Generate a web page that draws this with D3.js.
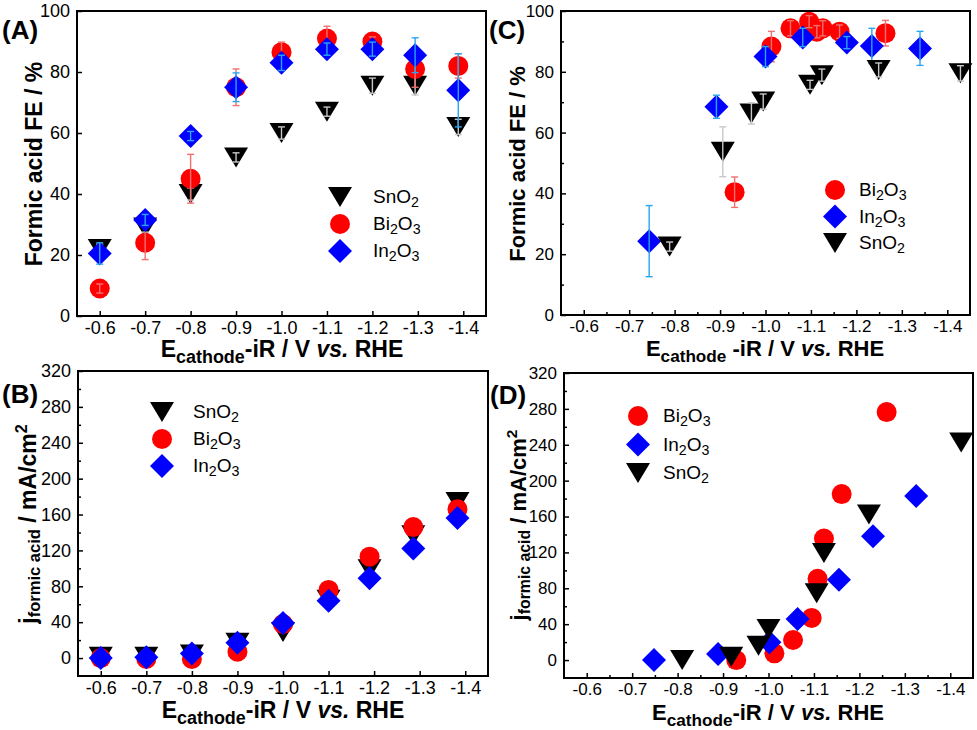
<!DOCTYPE html>
<html>
<head>
<meta charset="utf-8">
<script src="https://cdn.jsdelivr.net/npm/d3@7"></script>
<style>
body { margin: 0; background: #fff; }
svg { font-family: "Liberation Sans", Arial, sans-serif; }
</style>
</head>
<body>
<svg width="977" height="730"></svg>
<script>
// tick labels
const xTicks = [-0.6, -0.7, -0.8, -0.9, -1.0, -1.1, -1.2, -1.3, -1.4]
const xMinor = [-0.65, -0.75, -0.85, -0.95, -1.05, -1.15, -1.25, -1.35]
const feTicks = [0, 20, 40, 60, 80, 100]
const feMinor = [10, 30, 50, 70, 90]
const jTicks = [0, 40, 80, 120, 160, 200, 240, 280, 320]
const jMinor = [20, 60, 100, 140, 180, 220, 260, 300]

// (A) FE vs potential
const potA = [-0.6, -0.7, -0.8, -0.9, -1.0, -1.1, -1.2, -1.294, -1.389]
const feA_sn = [22, 29, 40, 52, 60, 67, 75.5, 75.5, 62]
const feA_snErr = [1.5, 1.5, 2, 1.5, 2, 1.5, 2.5, 3, 2.5]
const feA_bi = [9, 24, 45, 75, 86.5, 91, 90, 81, 82]
const feA_biErr = [1.5, 5.5, 8, 6, 3.3, 4, 1.5, 6, 4]
const feA_in = [20.5, 31.5, 59, 75, 83, 87.5, 87.5, 85.5, 74]
const feA_inErr = [3.5, 1.8, 1.5, 4.7, 2.5, 2, 2.3, 5.7, 12]

// (B) partial current density
const potB = [-0.6, -0.7, -0.8, -0.9, -1.0, -1.1, -1.19, -1.286, -1.383]
const jB_sn = [1.5, 1.5, 4, 17, 29, 65, 99, 137, 174]
const jB_bi = [0, -1, -1, 7, 38, 76, 113, 146, 166]
const jB_in = [0, 1, 5, 17, 39, 64, 89, 122, 156]

// (C) FE, measured potentials
const potC_bi = [-0.932, -1.013, -1.055, -1.096, -1.113, -1.126, -1.163, -1.264]
const feC_bi = [40.4, 88.3, 94.3, 96.5, 93.2, 94.3, 93.2, 92.7]
const feC_biErr = [5, 5, 2.5, 2, 2, 2.5, 2.2, 4.2]
const potC_in = [-0.744, -0.892, -1.0, -1.082, -1.179, -1.234, -1.34]
const feC_in = [24.3, 68.5, 85, 91.3, 89.6, 88.5, 87.7]
const feC_inErr = [11.7, 3.8, 3.3, 3, 2, 5.8, 5.6]
const potC_sn = [-0.789, -0.906, -0.969, -0.995, -1.098, -1.124, -1.249, -1.429]
const feC_sn = [22.5, 53.7, 66.3, 70.2, 75.7, 78.9, 80.6, 79.5]
const feC_snErr = [1.5, 8.2, 3.5, 2.5, 1.5, 2, 2.3, 2.5]

// (D) partial current density, measured potentials
const potD_bi = [-0.929, -1.013, -1.054, -1.095, -1.108, -1.122, -1.161, -1.26]
const jD_bi = [0, 7.5, 22.4, 47, 90.6, 135.4, 185, 276.4]
const potD_in = [-0.748, -0.889, -1.002, -1.064, -1.155, -1.23, -1.325]
const jD_in = [0, 6.7, 19.8, 45.9, 89.5, 138, 182.8]
const potD_sn = [-0.81, -0.918, -0.978, -1.0, -1.106, -1.122, -1.221, -1.424]
const jD_sn = [0, 3.7, 16, 34.7, 74.6, 119.4, 162.3, 242.4]

const svg = d3.select('svg')

const style = {
  SnO2: { shape: 'tri', fill: '#000000', err: '#c8c8c8' },
  Bi2O3: { shape: 'circle', fill: '#ff0000', err: '#f07070' },
  In2O3: { shape: 'dia', fill: '#0000ff', err: '#2aa4f0' }
}

const shapes = {
  tri: 'M-12,-10L12,-10L0,10Z',
  dia: 'M0,-12L12,0L0,12L-12,0Z',
  circle: d3.arc()({ innerRadius: 0, outerRadius: 10, startAngle: 0, endAngle: 2 * Math.PI })
}

const panels = [
  {
    label: '(A)', lx: 2, ly: 39, x0: 77, x1: 486, y0: 11, y1: 316,
    yDomain: [0, 100], yTicks: feTicks, yMinor: [], xMinor: [], font: 18,
    yTitle: 'fe', ytx: 42, yty: 164, xtx: 282, xty: 357, titleSize: 23, gap: '',
    legend: { x: 340, y: 197, dy: 27, tx: 373 },
    series: [
      { name: 'SnO2', x: potA, y: feA_sn, e: feA_snErr },
      { name: 'Bi2O3', x: potA, y: feA_bi, e: feA_biErr },
      { name: 'In2O3', x: potA, y: feA_in, e: feA_inErr }
    ]
  },
  {
    label: '(B)', lx: 2, ly: 403, x0: 78, x1: 488, y0: 371, y1: 676,
    yDomain: [-20, 320], yTicks: jTicks, yMinor: jMinor, xMinor: [], font: 18,
    yTitle: 'j', ytx: 36, yty: 524, xtx: 283, xty: 718, titleSize: 23, gap: '',
    legend: { x: 162, y: 412, dy: 27, tx: 193 },
    series: [
      { name: 'SnO2', x: potB, y: jB_sn },
      { name: 'Bi2O3', x: potB, y: jB_bi },
      { name: 'In2O3', x: potB, y: jB_in }
    ]
  },
  {
    label: '(C)', lx: 489, ly: 39, x0: 561, x1: 970, y0: 11, y1: 315,
    yDomain: [0, 100], yTicks: feTicks, yMinor: feMinor, xMinor: xMinor, font: 17,
    yTitle: 'fe', ytx: 525, yty: 164, xtx: 765, xty: 356, titleSize: 22, gap: ' ',
    legend: { x: 835, y: 190, dy: 26.5, tx: 859 },
    series: [
      { name: 'Bi2O3', x: potC_bi, y: feC_bi, e: feC_biErr },
      { name: 'In2O3', x: potC_in, y: feC_in, e: feC_inErr },
      { name: 'SnO2', x: potC_sn, y: feC_sn, e: feC_snErr }
    ]
  },
  {
    label: '(D)', lx: 490, ly: 404, x0: 564, x1: 973, y0: 373, y1: 678,
    yDomain: [-20, 320], yTicks: jTicks, yMinor: jMinor, xMinor: xMinor, font: 17,
    yTitle: 'j', ytx: 526, yty: 525, xtx: 768, xty: 720, titleSize: 22, gap: '',
    legend: { x: 638, y: 416, dy: 28.5, tx: 663 },
    series: [
      { name: 'Bi2O3', x: potD_bi, y: jD_bi },
      { name: 'In2O3', x: potD_in, y: jD_in },
      { name: 'SnO2', x: potD_sn, y: jD_sn }
    ]
  }
]

// writes e.g. Bi2O3 with the digits as subscripts
function chem(text, name, size) {
  name.match(/[A-Za-z]+|\d+/g).forEach(part => {
    if (/\d/.test(part)) {
      text.append('tspan').attr('dy', 4).attr('font-size', size * 0.75).text(part)
    } else {
      const t = text.append('tspan').text(part)
      if (text.selectAll('tspan').size() > 1) t.attr('dy', -4)
    }
  })
}

panels.forEach(p => {
  const x = d3.scaleLinear().domain([-0.55, -1.45]).range([p.x0, p.x1]),
    y = d3.scaleLinear().domain(p.yDomain).range([p.y1, p.y0]),
    g = svg.append('g')

  const gx = g.append('g')
    .attr('transform', `translate(0,${p.y1})`)
    .call(d3.axisBottom(x).tickValues(xTicks).tickSize(-5).tickPadding(5).tickFormat(d => d.toFixed(1)))
  const gy = g.append('g')
    .attr('transform', `translate(${p.x0},0)`)
    .call(d3.axisLeft(y).tickValues(p.yTicks).tickSize(-5).tickPadding(7))
  const mx = g.append('g')
    .attr('transform', `translate(0,${p.y1})`)
    .call(d3.axisBottom(x).tickValues(p.xMinor).tickSize(-3).tickFormat(''))
  const my = g.append('g')
    .attr('transform', `translate(${p.x0},0)`)
    .call(d3.axisLeft(y).tickValues(p.yMinor).tickSize(-3).tickFormat(''))
  ;[gx, gy, mx, my].forEach(a => {
    a.select('.domain').remove()
    a.selectAll('line').attr('stroke-width', 1.5)
    a.selectAll('text').attr('font-size', p.font).attr('font-family', null).attr('fill', '#000')
  })

  g.append('rect')
    .attr('x', p.x0).attr('y', p.y0)
    .attr('width', p.x1 - p.x0).attr('height', p.y1 - p.y0)
    .attr('fill', 'none').attr('stroke', '#000').attr('stroke-width', 2)

  p.series.forEach(s => {
    const st = style[s.name],
      pts = s.x.map((v, i) => ({ x: v, y: s.y[i], e: s.e ? s.e[i] : 0 }))
    g.append('g').selectAll('path').data(pts).join('path')
      .attr('d', shapes[st.shape])
      .attr('transform', d => `translate(${x(d.x)},${y(d.y)})`)
      .attr('fill', st.fill)
    if (!s.e) return
    const eb = g.append('g').attr('stroke', st.err).attr('stroke-width', 1.4)
    pts.forEach(d => {
      const cx = x(d.x), lo = y(d.y - d.e), hi = y(d.y + d.e)
      eb.append('line').attr('x1', cx).attr('x2', cx).attr('y1', lo).attr('y2', hi)
      eb.append('line').attr('x1', cx - 3.5).attr('x2', cx + 3.5).attr('y1', lo).attr('y2', lo)
      eb.append('line').attr('x1', cx - 3.5).attr('x2', cx + 3.5).attr('y1', hi).attr('y2', hi)
    })
  })

  // legend
  p.series.forEach((s, i) => {
    const st = style[s.name], ly = p.legend.y + i * p.legend.dy
    g.append('path').attr('d', shapes[st.shape])
      .attr('transform', `translate(${p.legend.x},${ly})`)
      .attr('fill', st.fill)
    const t = g.append('text').attr('x', p.legend.tx).attr('y', ly + 6).attr('font-size', 19)
    chem(t, s.name, 19)
  })

  g.append('text').attr('x', p.lx).attr('y', p.ly)
    .attr('font-size', 26).attr('font-weight', 'bold').text(p.label)

  // x title
  const fs = p.titleSize
  const xt = g.append('text').attr('x', p.xtx).attr('y', p.xty)
    .attr('text-anchor', 'middle').attr('font-weight', 'bold').attr('font-size', fs)
  xt.append('tspan').text('E')
  xt.append('tspan').attr('dy', 6).attr('font-size', fs * 0.78).text('cathode')
  xt.append('tspan').attr('dy', -6).text(p.gap + '-iR / V ')
  xt.append('tspan').attr('font-style', 'italic').text('vs.')
  xt.append('tspan').text(' RHE')

  // y title
  const yt = g.append('text')
    .attr('transform', `translate(${p.ytx},${p.yty}) rotate(-90)`)
    .attr('text-anchor', 'middle').attr('font-weight', 'bold').attr('font-size', fs)
  if (p.yTitle === 'fe') {
    yt.text('Formic acid FE / %')
  } else {
    yt.append('tspan').text('j')
    yt.append('tspan').attr('dy', 4).attr('font-size', fs * 0.72).text('formic acid')
    yt.append('tspan').attr('dy', -4).text(' / mA/cm')
    yt.append('tspan').attr('dy', -9).attr('font-size', fs * 0.7).text('2')
  }
})
</script>
</body>
</html>
